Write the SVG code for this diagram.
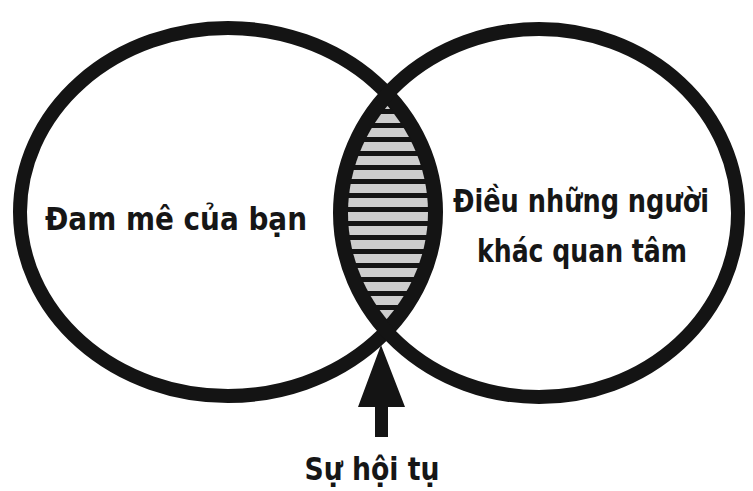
<svg xmlns="http://www.w3.org/2000/svg" width="753" height="491" viewBox="0 0 753 491">
<style>
.ring{fill:none;stroke:#141414;stroke-width:14}
.lbl{font-family:"DejaVu Sans Condensed","DejaVu Sans",sans-serif;font-stretch:condensed;font-weight:bold;font-size:32px;fill:#161616}
.stripe{fill:#cdcdcd}
</style>
<defs>
<clipPath id="cl"><ellipse cx="228" cy="212" rx="200" ry="176"/></clipPath>
<clipPath id="cr"><ellipse cx="539" cy="213" rx="191" ry="176"/></clipPath>
<clipPath id="clo"><ellipse cx="228" cy="212" rx="208" ry="184"/></clipPath>
<clipPath id="cro"><ellipse cx="539" cy="213" rx="199" ry="184"/></clipPath>
</defs>
<rect width="753" height="491" fill="#ffffff"/>
<g id="overlap">
<g clip-path="url(#clo)"><g clip-path="url(#cro)"><rect x="300" y="60" width="170" height="300" fill="#141414"/></g></g>
<g clip-path="url(#cl)"><g clip-path="url(#cr)">
<rect class="stripe" x="300" y="100" width="170" height="9"/>
<rect class="stripe" x="300" y="114" width="170" height="9"/>
<rect class="stripe" x="300" y="128" width="170" height="9"/>
<rect class="stripe" x="300" y="142" width="170" height="9"/>
<rect class="stripe" x="300" y="156" width="170" height="9"/>
<rect class="stripe" x="300" y="170" width="170" height="9"/>
<rect class="stripe" x="300" y="184" width="170" height="9"/>
<rect class="stripe" x="300" y="198" width="170" height="9"/>
<rect class="stripe" x="300" y="212" width="170" height="9"/>
<rect class="stripe" x="300" y="226" width="170" height="9"/>
<rect class="stripe" x="300" y="240" width="170" height="9"/>
<rect class="stripe" x="300" y="254" width="170" height="9"/>
<rect class="stripe" x="300" y="268" width="170" height="9"/>
<rect class="stripe" x="300" y="282" width="170" height="9"/>
<rect class="stripe" x="300" y="296" width="170" height="9"/>
<rect class="stripe" x="300" y="310" width="170" height="9"/>
<rect class="stripe" x="300" y="324" width="170" height="9"/>
</g></g>
</g>
<g id="left-circle">
<ellipse class="ring" cx="228" cy="212" rx="208" ry="184"/>
<text class="lbl" x="176" y="230" text-anchor="middle" textLength="262" lengthAdjust="spacingAndGlyphs">Đam mê của bạn</text>
</g>
<g id="right-circle">
<ellipse class="ring" cx="539" cy="213" rx="199" ry="184"/>
<text class="lbl" x="581" y="212" text-anchor="middle" textLength="256" lengthAdjust="spacingAndGlyphs">Điều những người</text>
<text class="lbl" x="582" y="262" text-anchor="middle" textLength="210" lengthAdjust="spacingAndGlyphs">khác quan tâm</text>
</g>
<g id="connectors">
<path d="M381 345 L405 407 L388 407 L388 437 L375 437 L375 407 L358 407 Z" fill="#141414"/>
</g>
<g id="label-convergence">
<text class="lbl" x="372" y="480" text-anchor="middle" textLength="135" lengthAdjust="spacingAndGlyphs">Sự hội tụ</text>
</g>
</svg>
